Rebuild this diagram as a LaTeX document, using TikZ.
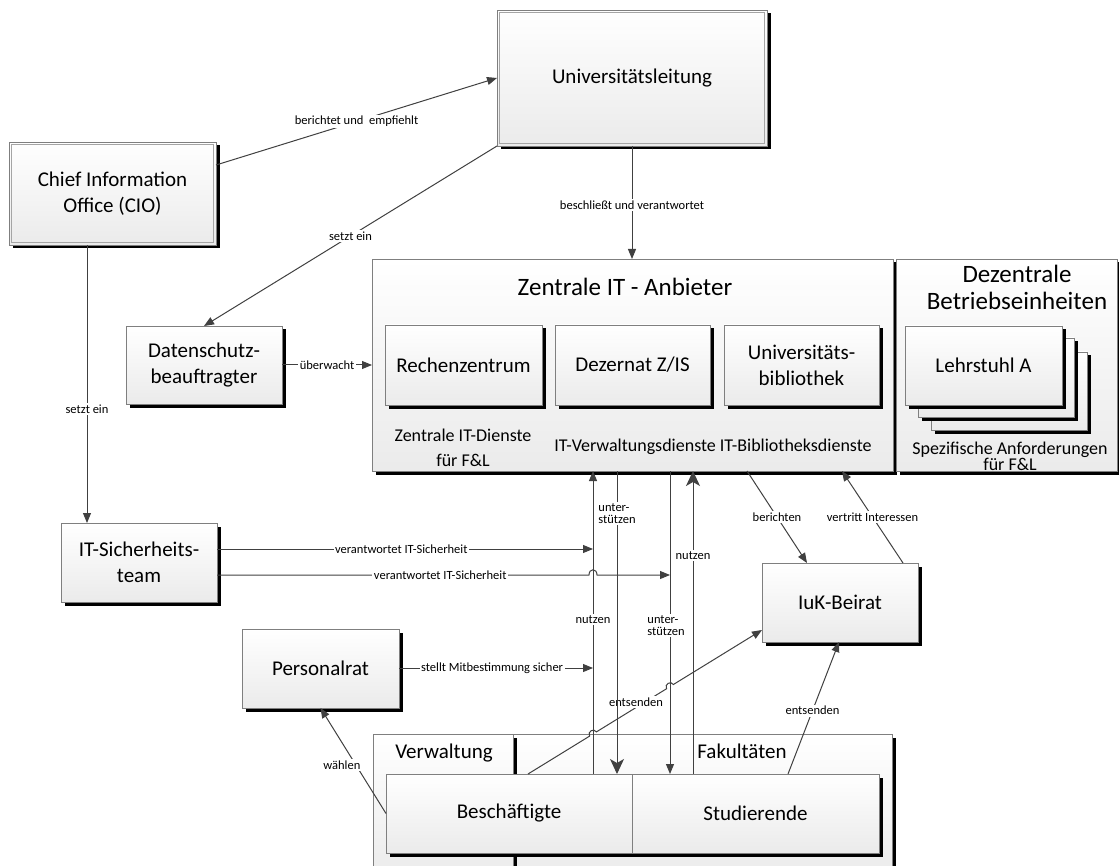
\documentclass[tikz,border=0pt]{standalone}
\usepackage{fontspec}
\setmainfont{Carlito}
\usetikzlibrary{arrows.meta,shadows,calc}
\definecolor{ln}{HTML}{404040}
\definecolor{bd}{HTML}{7F7F7F}
\begin{document}
\begin{tikzpicture}[x=1pt,y=-1pt,
  box/.style={draw=bd, line width=0.8pt, top color=white, bottom color=black!8, inner sep=2pt, outer sep=0pt, align=center,
    font=\fontsize{21}{26}\selectfont, drop shadow={shadow xshift=3.5pt,shadow yshift=-3.5pt,fill=black,opacity=1}},
  inner/.style={draw=bd!70, line width=0.7pt},
  big/.style={font=\fontsize{21}{26}\selectfont, align=center, inner sep=1pt},
  ttl/.style={font=\fontsize{25}{27}\selectfont, align=center, inner sep=1pt},
  mid/.style={font=\fontsize{18}{25}\selectfont, align=center, inner sep=1pt},
  lbl/.style={fill=white, inner sep=1.5pt, text=black, font=\fontsize{12.5}{12.5}\selectfont},
  con/.style={draw=ln, line width=1pt},
  arr/.style={con, -{Triangle[length=10pt,width=8pt]}},
  bigarr/.style={con, -{Stealth[length=15pt,width=14pt,inset=4pt]}},
]
\useasboundingbox (0,0) rectangle (1119,866);
\clip (0,0) rectangle (1119,866);

% bottom containers
\node[box, minimum width=519, minimum height=146] (fak) at (632.5,807) {};
\node[box, minimum width=140, minimum height=146] (verw) at (443,807) {};
\node[big] (verwlbl) at (444,753) {Verwaltung};
\node[big] (faklbl) at (742,751) {Fakultäten};
\node[box, minimum width=246, minimum height=79] (besch) at (509,813.5) {Beschäftigte};
\node[box, minimum width=247, minimum height=79] (stud) at (755.5,813.5) {Studierende};

% top boxes
\node[box, minimum width=270, minimum height=136] (ul) at (632,78) {Universitätsleitung};
\draw[inner] ($(ul.north west)+(2.5,2.5)$) rectangle ($(ul.south east)+(-2.5,-2.5)$);
\node[box, minimum width=207, minimum height=103] (cio) at (112.5,193.5) {Chief Information\\Office (CIO)};
\draw[inner] ($(cio.north west)+(2.5,2.5)$) rectangle ($(cio.south east)+(-2.5,-2.5)$);
\node[box, minimum width=156, minimum height=78] (ds) at (204,365) {Datenschutz-\\beauftragter};
\node[box, minimum width=156, minimum height=79] (itsec) at (139,562.5) {IT-Sicherheits-\\team};
\node[box, minimum width=157, minimum height=79] (pr) at (320.5,668.5) {Personalrat};
\node[box, minimum width=156, minimum height=79] (iuk) at (840,602.5) {IuK-Beirat};

% Zentrale IT
\node[box, minimum width=521, minimum height=212] (zit) at (632.5,365) {};
\node[ttl] (zittitle) at (625,287) {Zentrale IT - Anbieter};
\node[box, minimum width=157, minimum height=80] (rz) at (463.5,365) {Rechenzentrum};
\node[box, minimum width=155, minimum height=80] (zis) at (632.5,365) {Dezernat Z/IS};
\node[box, minimum width=155, minimum height=80] (ub) at (801.5,365) {Universitäts-\\bibliothek};
\node[mid] (zitd) at (463,448) {Zentrale IT-Dienste\\für F\&L};
\node[mid] (itv) at (713,447) {IT-Verwaltungsdienste IT-Bibliotheksdienste};

% Dezentrale
\node[box, minimum width=221, minimum height=212] (dez) at (1006.5,365) {};
\node[ttl] (deztitle) at (1017,287) {Dezentrale\\Betriebseinheiten};
\node[box, minimum width=156, minimum height=78] (ls3) at (1009,391) {};
\node[box, minimum width=156, minimum height=79] (ls2) at (996,377.5) {};
\node[box, minimum width=157, minimum height=79] (ls1) at (983.5,365.5) {Lehrstuhl A};
\node[font=\fontsize{18}{16}\selectfont, align=center, inner sep=1pt] (spez) at (1010,456) {Spezifische Anforderungen\\für F\&L};

% junction coordinates on connectors
\coordinate (j1) at (593,549);
\coordinate (j2) at (670,575);
\coordinate (j3) at (593,668);

% connectors
\draw[arr] (ul.south) -- node[lbl,pos=.52]{beschließt und verantwortet} (ul.south |- zit.north);
\draw[arr] ($(cio.north east)+(0,23)$) -- node[lbl]{berichtet und~ empfiehlt} (ul.west);
\draw[arr] (ul.south west) -- node[lbl]{setzt ein} (ds.north);
\draw[arr] (87,0 |- cio.south) -- node[lbl,pos=.59]{setzt ein} (87,0 |- itsec.north);
\draw[arr] (ds.east) -- node[lbl]{überwacht} (zit.west |- ds.east);

% entsenden (Beschäftigte -> IuK) with line jumps
\draw[arr] (528,0 |- besch.north) -- (589.6,736.1) .. controls (587.0,731.8) and (593.8,727.6) .. (596.4,731.9)
  -- (666.6,688.7) .. controls (664.0,684.4) and (670.8,680.2) .. (673.4,684.5) -- (iuk.west |- 0,630);
\node[lbl] (ent1) at (636,702) {entsenden};

\draw[arr] (itsec.east |- j1) -- node[lbl,pos=.49]{verantwortet IT-Sicherheit} (j1);
\draw[arr] (itsec.east |- j2) -- node[lbl,pos=.6]{verantwortet IT-Sicherheit} (589,575) .. controls (589,568) and (597,568) .. (597,575) -- (j2);
\draw[arr] (pr.east |- j3) -- node[lbl,pos=.48]{stellt Mitbestimmung sicher} (j3);
\draw[arr] (besch.west) -- node[lbl,pos=.46,xshift=-14pt]{wählen} (pr.south);

% vertical service lines
\draw[arr] (593,0 |- besch.north) -- node[lbl,pos=.51]{nutzen} (593,0 |- zit.south);
\draw[bigarr] (617,0 |- zit.south) -- node[lbl,pos=.14,align=left]{unter-\\stützen} (617,0 |- besch.north);
\draw[arr] (670,0 |- zit.south) -- node[lbl,pos=.51,align=left,xshift=-4pt]{unter-\\stützen} (670,0 |- stud.north);
\draw[bigarr] (693,0 |- stud.north) -- node[lbl,pos=.72]{nutzen} (693,0 |- zit.south);

% IuK-Beirat connectors
\draw[arr] (788,0 |- stud.north) -- node[lbl,pos=.48]{entsenden} (839,0 |- iuk.south);
\draw[arr] (747,0 |- zit.south) -- node[lbl]{berichten} (807,0 |- iuk.north);
\draw[arr] (903,0 |- iuk.north) -- node[lbl]{vertritt Interessen} (842,0 |- zit.south);
\end{tikzpicture}
\end{document}
